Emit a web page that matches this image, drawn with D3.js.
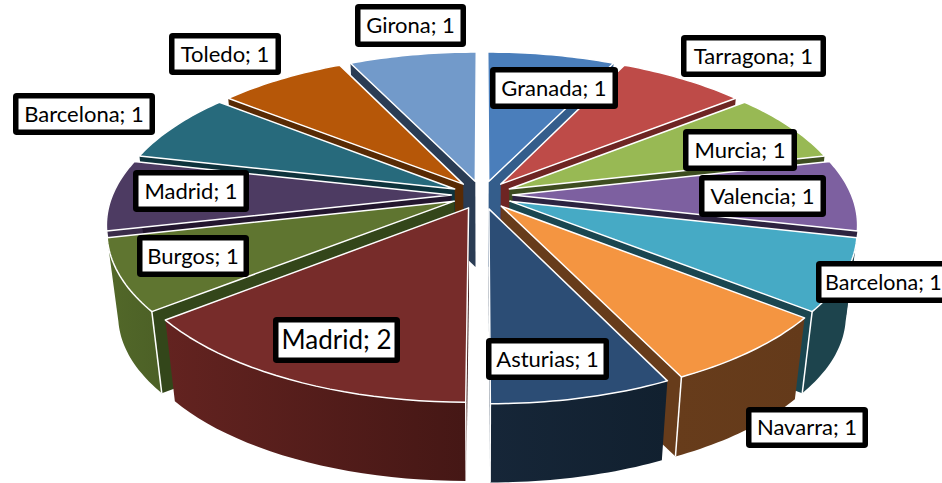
<!DOCTYPE html>
<html>
<head>
<meta charset="utf-8">
<script src="https://cdn.jsdelivr.net/npm/d3@7"></script>
<style>
  html, body { margin: 0; padding: 0; background: #fff; overflow: hidden; }
  text { font-family: Lato, "Open Sans", sans-serif; fill: #000; }
</style>
</head>
<body>
<div id="chart"></div>
<script>
// Chart data, clockwise from twelve o'clock
const categories = ['Granada', 'Tarragona', 'Murcia', 'Valencia', 'Barcelona', 'Navarra', 'Asturias',
    'Madrid', 'Burgos', 'Madrid', 'Barcelona', 'Toledo', 'Girona'];
const values = [1, 1, 1, 1, 1, 1, 1, 2, 1, 1, 1, 1, 1];

// Slice colours
const topColors = ['#4a7ebb', '#be4b48', '#98b954', '#7d60a0', '#46aac5', '#f49541', '#2c4d75',
    '#772c2a', '#5f7530', '#4d3b62', '#276a7c', '#b65708', '#729aca'];
const wallColors = ['#345d8b', '#6e2523', '#3d4d20', '#2d2340', '#1a4650', '#673c1b', '#1b2f48',
    '#3a1413', '#33461a', '#23162f', '#0e333c', '#582a04', '#2a3c54'];
const sideStart = ['#2f5480', '#7a2f2d', '#5f7533', '#4d3b65', '#1d444d', '#673c1b', '#162638',
    '#632320', '#526829', '#3a2c4a', '#1d4f5c', '#7a3a05', '#4a6a90'];
const sideEnd = ['#2f5480', '#7a2f2d', '#5f7533', '#4d3b65', '#1d444d', '#643a1a', '#11202f',
    '#451715', '#4c6026', '#3a2c4a', '#1d4f5c', '#7a3a05', '#4a6a90'];

// Label boxes: [left, top, right, bottom, font size], same order as categories
const labelBoxes = [
    [490, 67, 618, 109, 22], [681, 35, 826, 77, 22], [683, 129, 797, 171, 22], [699, 175, 826, 217, 22],
    [816, 261, 960, 303, 21.5], [746, 407, 868, 448, 22], [486, 338, 609, 380, 22], [273, 317, 400, 363, 26],
    [137, 235, 249, 277, 22], [133, 170, 249, 212, 22], [13, 93, 155, 135, 22], [169, 33, 281, 75, 22],
    [355, 4, 466, 47, 22]
];

const width = 942;
const height = 483;

// Pie geometry
const center = { x: 482, y: 195 };
const rx = 339;
const ry = 156;
const perspective = 0.172;
const explode = 0.09;
const depth = 85;
const bottomScale = 0.97;

const svg = d3.select('#chart')
    .append('svg')
    .attr('width', width)
    .attr('height', height)
    .style('display', 'block');

const defs = svg.append('defs');

// Project a point of the unit disc (u to the right, v towards the viewer)
function project(u, v, lower) {
    const s = 1 / (1 - perspective * v);
    const x = rx * u * s;
    const y = ry * v * s;
    if (!lower) return [center.x + x, center.y + y];
    return [center.x + x * bottomScale, center.y + y * bottomScale + depth];
}

const pie = d3.pie().sort(null).value((d) => d);
const line = d3.line();

const slices = pie(values).map((d, i) => {
    const mid = (d.startAngle + d.endAngle) / 2;
    return { ...d, i, mid, ox: explode * Math.sin(mid), oy: -explode * Math.cos(mid) };
});

// Points on the outer edge of a slice
function rim(d, lower) {
    const steps = d3.range(0, 1.0001, 1 / 24);
    return steps.map((t) => {
        const a = d.startAngle + (d.endAngle - d.startAngle) * t;
        return project(d.ox + Math.sin(a), d.oy - Math.cos(a), lower);
    });
}

// Painter's order: the far slices first
const ordered = slices.slice().sort((a, b) => Math.cos(b.mid) - Math.cos(a.mid));

ordered.forEach((d) => {
    const g = svg.append('g').attr('class', 'slice');
    const tipTop = project(d.ox, d.oy, false);
    const tipLow = project(d.ox, d.oy, true);
    const upper = rim(d, false);

    // The radial wall on the edge nearest the viewer
    const wallAngle = Math.cos(d.startAngle) < Math.cos(d.endAngle) ? d.startAngle : d.endAngle;
    const cornerTop = project(d.ox + Math.sin(wallAngle), d.oy - Math.cos(wallAngle), false);
    const cornerLow = project(d.ox + Math.sin(wallAngle), d.oy - Math.cos(wallAngle), true);
    g.append('path')
        .attr('d', line([tipTop, cornerTop, cornerLow, tipLow]) + 'Z')
        .attr('fill', wallColors[d.i]);

    // Only the near half of the pie shows its outer side
    if (Math.cos(d.mid) < 0) {
        const gradId = `side-${d.i}`;
        const grad = defs.append('linearGradient')
            .attr('id', gradId)
            .attr('gradientUnits', 'objectBoundingBox');
        grad.append('stop').attr('offset', '0%').attr('stop-color', sideStart[d.i]);
        grad.append('stop').attr('offset', '100%').attr('stop-color', sideEnd[d.i]);

        const lowerPts = rim(d, true).reverse();
        g.append('path')
            .attr('d', line(upper.concat(lowerPts)) + 'Z')
            .attr('fill', `url(#${gradId})`);

        // White line down the corner of the visible wall
        g.append('path')
            .attr('d', line([cornerTop, cornerLow]))
            .attr('stroke', '#fff')
            .attr('stroke-width', 1.5)
            .attr('fill', 'none');
    }

    // Top face
    g.append('path')
        .attr('d', line([tipTop].concat(upper)) + 'Z')
        .attr('fill', topColors[d.i])
        .attr('stroke', '#fff')
        .attr('stroke-width', 1.5)
        .attr('stroke-linejoin', 'round');
});

// Data labels
const labels = svg.append('g')
    .selectAll('g')
    .data(slices)
    .enter()
    .append('g');

labels.append('rect')
    .attr('x', (d) => labelBoxes[d.i][0] + 2.75)
    .attr('y', (d) => labelBoxes[d.i][1] + 2.75)
    .attr('width', (d) => labelBoxes[d.i][2] - labelBoxes[d.i][0] - 5.5)
    .attr('height', (d) => labelBoxes[d.i][3] - labelBoxes[d.i][1] - 5.5)
    .attr('rx', 1)
    .attr('fill', '#fff')
    .attr('stroke', '#000')
    .attr('stroke-width', 5.5);

labels.append('text')
    .attr('x', (d) => d.i === 4 ? labelBoxes[d.i][0] + 9 : (labelBoxes[d.i][0] + labelBoxes[d.i][2]) / 2)
    .attr('y', (d) => (labelBoxes[d.i][1] + labelBoxes[d.i][3]) / 2)
    .attr('dy', '0.35em')
    .attr('text-anchor', (d) => d.i === 4 ? 'start' : 'middle')
    .attr('font-size', (d) => labelBoxes[d.i][4])
    .text((d) => `${categories[d.i]}; ${d.value}`);
</script>
</body>
</html>
